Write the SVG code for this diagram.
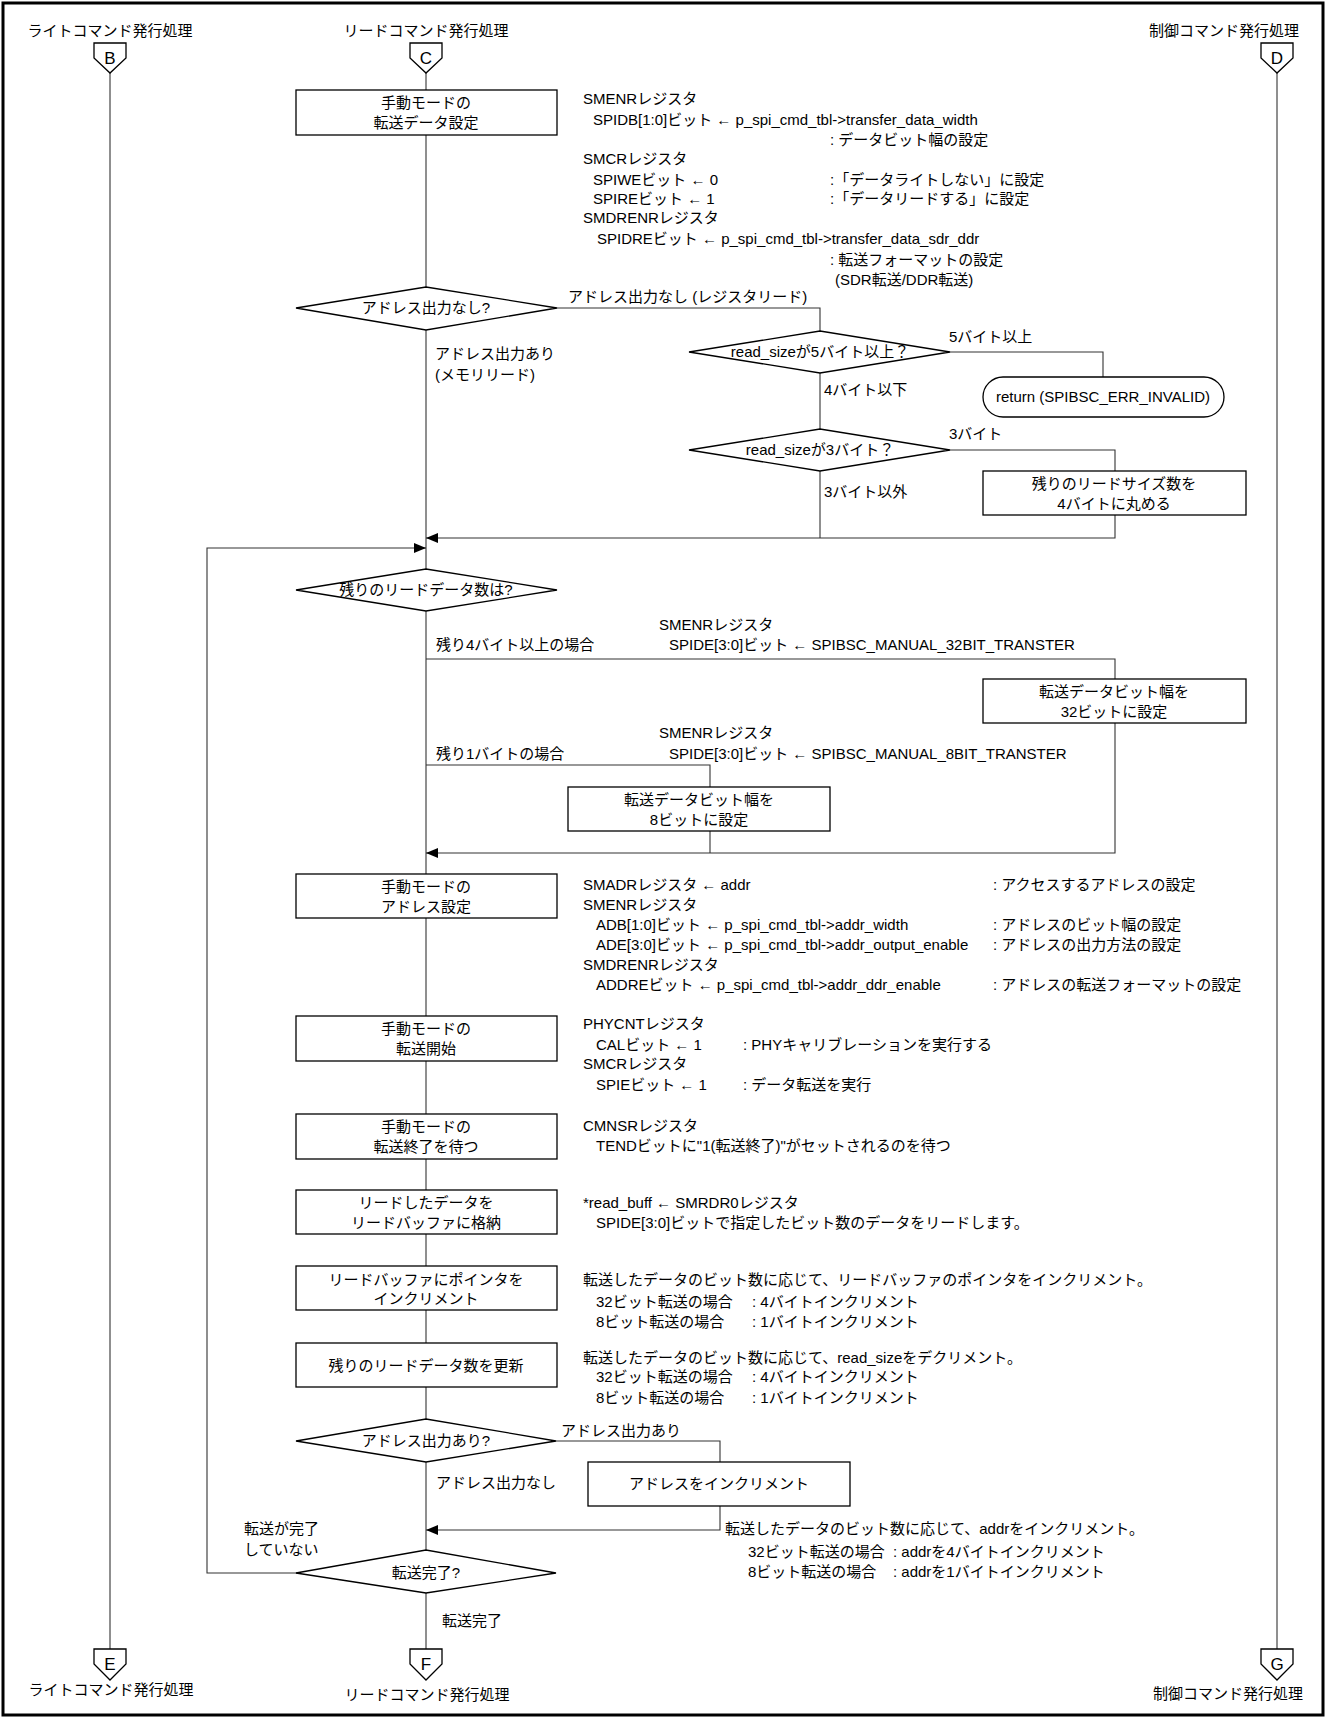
<svg xmlns="http://www.w3.org/2000/svg" width="1326" height="1718" viewBox="0 0 1326 1718">
<style>
text{font-family:"Liberation Sans","Noto Sans CJK JP",sans-serif;font-size:15px;fill:#000}
.c{text-anchor:middle}
.e{text-anchor:end}
.k{font-size:17px}
.shape{fill:#fff;stroke:#000;stroke-width:1.3}
.ln{fill:none;stroke:#333;stroke-width:1.1}
</style>
<defs>
<marker id="arr" markerUnits="userSpaceOnUse" markerWidth="12" markerHeight="10" refX="12" refY="5" orient="auto">
<path d="M0,0 L12,5 L0,10 z" fill="#000"/>
</marker>
</defs>
<rect x="3" y="3" width="1320" height="1712" fill="#fff" stroke="#000" stroke-width="3"/>

<g id="connectors">
<path class="ln" d="M110 73 V1649"/>
<path class="ln" d="M1277 73 V1649"/>
<path class="ln" d="M426 73 V90"/>
<path class="ln" d="M426 135 V287"/>
<path class="ln" d="M426 330 V569"/>
<path class="ln" d="M557 308 H820 V331"/>
<path class="ln" d="M950 352 H1103 V377"/>
<path class="ln" d="M820 373 V429"/>
<path class="ln" d="M950 450 H1115 V471"/>
<path class="ln" d="M820 471 V538"/>
<path class="ln" d="M1115 515 V538 H426" marker-end="url(#arr)"/>
<path class="ln" d="M297 1573 H207 V548 H426" marker-end="url(#arr)"/>
<path class="ln" d="M426 611 V874"/>
<path class="ln" d="M426 659 H1115 V679"/>
<path class="ln" d="M1115 723 V853 H426" marker-end="url(#arr)"/>
<path class="ln" d="M426 765 H710 V787"/>
<path class="ln" d="M710 831 V853"/>
<path class="ln" d="M426 918 V1016"/>
<path class="ln" d="M426 1061 V1114"/>
<path class="ln" d="M426 1159 V1190"/>
<path class="ln" d="M426 1234 V1266"/>
<path class="ln" d="M426 1310 V1343"/>
<path class="ln" d="M426 1387 V1419"/>
<path class="ln" d="M556 1441 H720 V1462"/>
<path class="ln" d="M720 1506 V1530 H426" marker-end="url(#arr)"/>
<path class="ln" d="M426 1462 V1550"/>
<path class="ln" d="M426 1593 V1649"/>
</g>

<g id="labels">
<text x="568" y="302">アドレス出力なし (レジスタリード)</text>
<text x="435" y="359">アドレス出力あり</text>
<text x="435" y="380">(メモリリード)</text>
<text x="949" y="342">5バイト以上</text>
<text x="824" y="395">4バイト以下</text>
<text x="949" y="439">3バイト</text>
<text x="824" y="497">3バイト以外</text>
<text x="436" y="650">残り4バイト以上の場合</text>
<text x="659" y="630">SMENRレジスタ</text>
<text x="669" y="650">SPIDE[3:0]ビット ← SPIBSC_MANUAL_32BIT_TRANSTER</text>
<text x="436" y="759">残り1バイトの場合</text>
<text x="659" y="738">SMENRレジスタ</text>
<text x="669" y="759">SPIDE[3:0]ビット ← SPIBSC_MANUAL_8BIT_TRANSTER</text>
<text x="561" y="1436">アドレス出力あり</text>
<text x="436" y="1488">アドレス出力なし</text>
<text x="244" y="1534">転送が完了</text>
<text x="244" y="1555">していない</text>
<text x="442" y="1626">転送完了</text>
</g>

<g id="note1">
<text x="583" y="104">SMENRレジスタ</text>
<text x="593" y="125">SPIDB[1:0]ビット ← p_spi_cmd_tbl-&gt;transfer_data_width</text>
<text x="830" y="145">: データビット幅の設定</text>
<text x="583" y="164">SMCRレジスタ</text>
<text x="593" y="185">SPIWEビット ← 0</text>
<text x="830" y="185">:「データライトしない」に設定</text>
<text x="593" y="204">SPIREビット ← 1</text>
<text x="830" y="204">:「データリードする」に設定</text>
<text x="583" y="223">SMDRENRレジスタ</text>
<text x="597" y="244">SPIDREビット ← p_spi_cmd_tbl-&gt;transfer_data_sdr_ddr</text>
<text x="830" y="265">: 転送フォーマットの設定</text>
<text x="835" y="285">(SDR転送/DDR転送)</text>
</g>

<g id="note2">
<text x="583" y="890">SMADRレジスタ ← addr</text>
<text x="993" y="890">: アクセスするアドレスの設定</text>
<text x="583" y="910">SMENRレジスタ</text>
<text x="596" y="930">ADB[1:0]ビット ← p_spi_cmd_tbl-&gt;addr_width</text>
<text x="993" y="930">: アドレスのビット幅の設定</text>
<text x="596" y="950">ADE[3:0]ビット ← p_spi_cmd_tbl-&gt;addr_output_enable</text>
<text x="993" y="950">: アドレスの出力方法の設定</text>
<text x="583" y="970">SMDRENRレジスタ</text>
<text x="596" y="990">ADDREビット ← p_spi_cmd_tbl-&gt;addr_ddr_enable</text>
<text x="993" y="990">: アドレスの転送フォーマットの設定</text>
</g>

<g id="note3">
<text x="583" y="1029">PHYCNTレジスタ</text>
<text x="596" y="1050">CALビット ← 1</text>
<text x="743" y="1050">: PHYキャリブレーションを実行する</text>
<text x="583" y="1069">SMCRレジスタ</text>
<text x="596" y="1090">SPIEビット ← 1</text>
<text x="743" y="1090">: データ転送を実行</text>
</g>

<g id="note4">
<text x="583" y="1131">CMNSRレジスタ</text>
<text x="596" y="1151">TENDビットに"1(転送終了)"がセットされるのを待つ</text>
</g>

<g id="note5">
<text x="583" y="1208">*read_buff ← SMRDR0レジスタ</text>
<text x="596" y="1228">SPIDE[3:0]ビットで指定したビット数のデータをリードします。</text>
</g>

<g id="note6">
<text x="583" y="1285">転送したデータのビット数に応じて、リードバッファのポインタをインクリメント。</text>
<text x="596" y="1307">32ビット転送の場合</text>
<text x="752" y="1307">: 4バイトインクリメント</text>
<text x="596" y="1327">8ビット転送の場合</text>
<text x="752" y="1327">: 1バイトインクリメント</text>
</g>

<g id="note7">
<text x="583" y="1363">転送したデータのビット数に応じて、read_sizeをデクリメント。</text>
<text x="596" y="1382">32ビット転送の場合</text>
<text x="752" y="1382">: 4バイトインクリメント</text>
<text x="596" y="1403">8ビット転送の場合</text>
<text x="752" y="1403">: 1バイトインクリメント</text>
</g>

<g id="note8">
<text x="725" y="1534">転送したデータのビット数に応じて、addrをインクリメント。</text>
<text x="748" y="1557">32ビット転送の場合</text>
<text x="893" y="1557">: addrを4バイトインクリメント</text>
<text x="748" y="1577">8ビット転送の場合</text>
<text x="893" y="1577">: addrを1バイトインクリメント</text>
</g>

<g id="conB">
<text class="c" x="110" y="36">ライトコマンド発行処理</text>
<path class="shape" d="M94 43 H126 V58 L110 73 L94 58 Z"/>
<text class="c k" x="110" y="64">B</text>
</g>
<g id="conC">
<text class="c" x="426" y="36">リードコマンド発行処理</text>
<path class="shape" d="M410 43 H442 V58 L426 73 L410 58 Z"/>
<text class="c k" x="426" y="64">C</text>
</g>
<g id="conD">
<text class="e" x="1299" y="36">制御コマンド発行処理</text>
<path class="shape" d="M1261 43 H1293 V58 L1277 73 L1261 58 Z"/>
<text class="c k" x="1277" y="64">D</text>
</g>
<g id="conE">
<path class="shape" d="M94 1649 H126 V1664 L110 1680 L94 1664 Z"/>
<text class="c k" x="110" y="1670">E</text>
<text class="c" x="111" y="1695">ライトコマンド発行処理</text>
</g>
<g id="conF">
<path class="shape" d="M410 1649 H442 V1664 L426 1680 L410 1664 Z"/>
<text class="c k" x="426" y="1670">F</text>
<text class="c" x="427" y="1700">リードコマンド発行処理</text>
</g>
<g id="conG">
<path class="shape" d="M1261 1649 H1293 V1664 L1277 1680 L1261 1664 Z"/>
<text class="c k" x="1277" y="1670">G</text>
<text class="e" x="1303" y="1699">制御コマンド発行処理</text>
</g>

<g id="box1">
<rect class="shape" x="296" y="90" width="261" height="45"/>
<text class="c" x="426" y="108">手動モードの</text>
<text class="c" x="426" y="128">転送データ設定</text>
</g>
<g id="dec1">
<polygon class="shape" points="296,308 426,287 557,308 426,330"/>
<text class="c" x="426" y="313">アドレス出力なし?</text>
</g>
<g id="dec2">
<polygon class="shape" points="689,352 820,331 950,352 820,373"/>
<text class="c" x="820" y="357">read_sizeが5バイト以上？</text>
</g>
<g id="term1">
<rect class="shape" x="983" y="377" width="241" height="40" rx="20" ry="20"/>
<text class="c" x="1103" y="402">return (SPIBSC_ERR_INVALID)</text>
</g>
<g id="dec3">
<polygon class="shape" points="689,450 820,429 950,450 820,471"/>
<text class="c" x="820" y="455">read_sizeが3バイト？</text>
</g>
<g id="box2">
<rect class="shape" x="983" y="471" width="263" height="44"/>
<text class="c" x="1114" y="489">残りのリードサイズ数を</text>
<text class="c" x="1114" y="509">4バイトに丸める</text>
</g>
<g id="dec4">
<polygon class="shape" points="296,590 426,569 557,590 426,611"/>
<text class="c" x="426" y="595">残りのリードデータ数は?</text>
</g>
<g id="box3">
<rect class="shape" x="983" y="679" width="263" height="44"/>
<text class="c" x="1114" y="697">転送データビット幅を</text>
<text class="c" x="1114" y="717">32ビットに設定</text>
</g>
<g id="box4">
<rect class="shape" x="568" y="787" width="262" height="44"/>
<text class="c" x="699" y="805">転送データビット幅を</text>
<text class="c" x="699" y="825">8ビットに設定</text>
</g>
<g id="box5">
<rect class="shape" x="296" y="874" width="261" height="44"/>
<text class="c" x="426" y="892">手動モードの</text>
<text class="c" x="426" y="912">アドレス設定</text>
</g>
<g id="box6">
<rect class="shape" x="296" y="1016" width="261" height="45"/>
<text class="c" x="426" y="1034">手動モードの</text>
<text class="c" x="426" y="1054">転送開始</text>
</g>
<g id="box7">
<rect class="shape" x="296" y="1114" width="261" height="45"/>
<text class="c" x="426" y="1132">手動モードの</text>
<text class="c" x="426" y="1152">転送終了を待つ</text>
</g>
<g id="box8">
<rect class="shape" x="296" y="1190" width="261" height="44"/>
<text class="c" x="426" y="1208">リードしたデータを</text>
<text class="c" x="426" y="1228">リードバッファに格納</text>
</g>
<g id="box9">
<rect class="shape" x="296" y="1266" width="261" height="44"/>
<text class="c" x="426" y="1285">リードバッファにポインタを</text>
<text class="c" x="426" y="1304">インクリメント</text>
</g>
<g id="box10">
<rect class="shape" x="296" y="1343" width="261" height="44"/>
<text class="c" x="426" y="1371">残りのリードデータ数を更新</text>
</g>
<g id="dec5">
<polygon class="shape" points="296,1441 426,1419 556,1441 426,1462"/>
<text class="c" x="426" y="1446">アドレス出力あり?</text>
</g>
<g id="box11">
<rect class="shape" x="588" y="1462" width="262" height="44"/>
<text class="c" x="719" y="1489">アドレスをインクリメント</text>
</g>
<g id="dec6">
<polygon class="shape" points="296,1573 426,1550 556,1573 426,1593"/>
<text class="c" x="426" y="1578">転送完了?</text>
</g>
</svg>
